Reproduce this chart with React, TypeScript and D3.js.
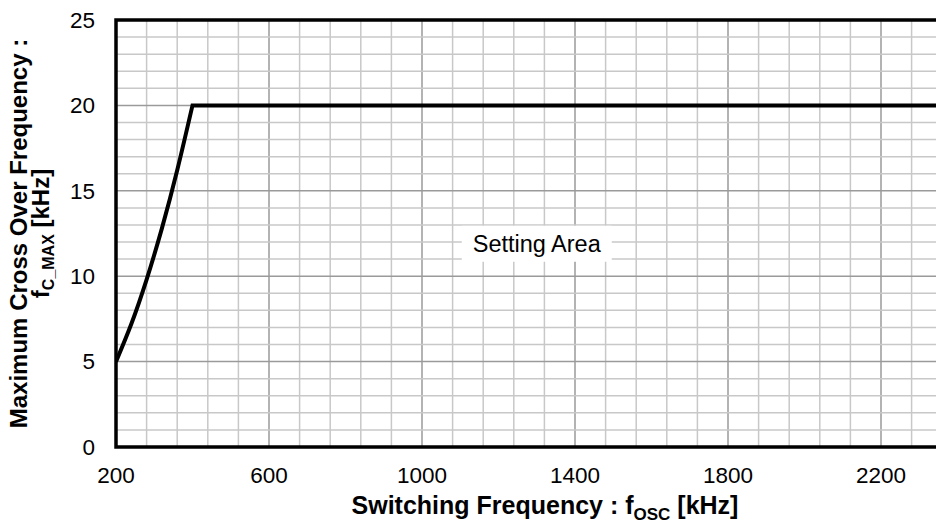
import React from "react";
import * as d3 from "d3";

// Boundary of the allowed crossover frequency vs. switching frequency
const fOsc = [200, 240, 280, 320, 360, 400, 2400];
const fcMax = [5, 7.2, 9.8, 12.8, 16.2, 20, 20];

const xTicks = [200, 600, 1000, 1400, 1800, 2200];
const yTicks = [0, 5, 10, 15, 20, 25];
const areaLabel = "Setting Area";
const areaLabelAt = [1300, 11.9];

const W = 936;
const H = 524;
const margin = { left: 116, top: 20, bottom: 77 };
const FONT = "'Liberation Sans', Arial, sans-serif";

export default function App() {
  const x = d3.scaleLinear().domain([200, 2400]).range([margin.left, margin.left + 841.5]);
  const y = d3.scaleLinear().domain([0, 25]).range([H - margin.bottom, margin.top]);

  const minorX = d3.range(200, 2400.1, 80);
  const minorY = d3.range(0, 25.1, 1);

  // rising part is smoothed, flat plateau drawn straight
  const last = fOsc.length - 1;
  const riseIdx = d3.range(0, last);
  const rise = d3
    .line<number>()
    .x((i) => x(fOsc[i]))
    .y((i) => y(fcMax[i]))
    .curve(d3.curveNatural);
  const pathD = (rise(riseIdx) ?? "") + `L${x(fOsc[last])},${y(fcMax[last])}`;

  const [lx, ly] = areaLabelAt;
  const x0 = x(200);
  const x1 = x(2400);
  const y0 = y(0);
  const y1 = y(25);

  return (
    <svg
      width={W}
      height={H}
      style={{ position: "absolute", left: 0, top: 0, background: "#fff" }}
      fontFamily={FONT}
    >
      <defs>
        <clipPath id="plot">
          <rect x={x0} y={y1} width={x1 - x0} height={y0 - y1} />
        </clipPath>
      </defs>
      <g clipPath="url(#plot)">
        {minorX.map((v) => (
          <line key={"mx" + v} x1={x(v)} x2={x(v)} y1={y1} y2={y0}
            stroke={(v - 200) % 400 === 0 ? "#9a9a9a" : "#c8c8c8"} strokeWidth={1.5} />
        ))}
        {minorY.map((v) => (
          <line key={"my" + v} x1={x0} x2={x1} y1={y(v)} y2={y(v)}
            stroke={v % 5 === 0 ? "#9a9a9a" : "#c8c8c8"} strokeWidth={1.5} />
        ))}
        <rect x={x(lx) - 75} y={y(ly) - 18} width={150} height={36} fill="#fff" />
        <text x={x(lx)} y={y(ly)} dy="0.35em" textAnchor="middle" fontSize={23.5} fill="#000">
          {areaLabel}
        </text>
        <path d={pathD} fill="none" stroke="#000" strokeWidth={4} strokeLinejoin="miter" />
      </g>
      <rect x={x0} y={y1} width={x1 - x0} height={y0 - y1} fill="none" stroke="#000" strokeWidth={3.5} />

      {xTicks.map((v) => (
        <text key={"xt" + v} x={x(v)} y={y0 + 36} textAnchor="middle" fontSize={22.5} fill="#000">
          {v}
        </text>
      ))}
      {yTicks.map((v) => (
        <text key={"yt" + v} x={x0 - 21} y={y(v)} dy="0.35em" textAnchor="end" fontSize={22.5} fill="#000">
          {v}
        </text>
      ))}

      <text x={545} y={514} textAnchor="middle" fontSize={25} fontWeight="bold" fill="#000">
        Switching Frequency : f
        <tspan fontSize={17} dy={6}>OSC</tspan>
        <tspan dy={-6}> [kHz]</tspan>
      </text>

      <g transform={`translate(0, ${(y0 + y1) / 2}) rotate(-90)`}>
        <text x={0} y={27} textAnchor="middle" fontSize={24} fontWeight="bold" fill="#000">
          Maximum Cross Over Frequency :
        </text>
        <text x={0} y={49} textAnchor="middle" fontSize={24} fontWeight="bold" fill="#000">
          f<tspan fontSize={16} dy={5}>C_MAX</tspan>
          <tspan dy={-5}> [kHz]</tspan>
        </text>
      </g>
    </svg>
  );
}
